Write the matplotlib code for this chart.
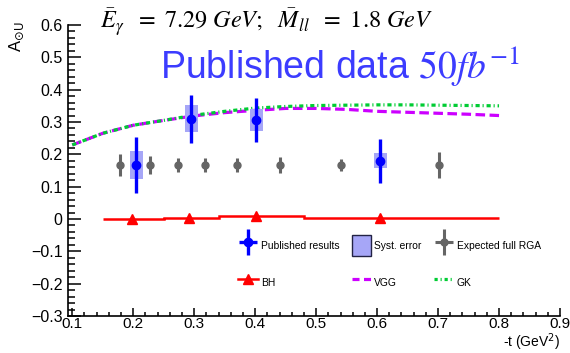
import matplotlib
matplotlib.use("Agg")
import matplotlib.pyplot as plt
from matplotlib.patches import Rectangle, Patch
from matplotlib.lines import Line2D
from matplotlib.legend_handler import HandlerErrorbar
from matplotlib.ticker import MultipleLocator, FixedLocator
import numpy as np

plt.rcParams['font.family'] = ['Liberation Sans', 'DejaVu Sans']

# ---- data ----
pub_t = [0.205, 0.295, 0.402, 0.605]
pub_a = [0.167, 0.310, 0.306, 0.180]
pub_stat = [0.086, 0.074, 0.068, 0.068]
pub_syst = [0.043, 0.042, 0.033, 0.023]
syst_halfwidth = 0.0105

rga_t = [0.178, 0.228, 0.273, 0.317, 0.371, 0.441, 0.541, 0.701]
rga_a = [0.167, 0.167, 0.167, 0.167, 0.167, 0.167, 0.167, 0.167]
rga_err = [0.034, 0.028, 0.022, 0.022, 0.022, 0.025, 0.020, 0.040]

bh_t = [0.198, 0.292, 0.402, 0.605]
bh_a = [0.000, 0.004, 0.008, 0.004]
bh_edges = [0.15, 0.25, 0.34, 0.48, 0.80]
bh_levels = [0.000, 0.004, 0.008, 0.004]

model_t = [0.10, 0.15, 0.20, 0.25, 0.30, 0.35, 0.40, 0.45, 0.50, 0.55, 0.60, 0.65, 0.70, 0.75, 0.80]
vgg_a = [0.229, 0.265, 0.290, 0.305, 0.319, 0.329, 0.336, 0.342, 0.342, 0.339, 0.333, 0.330, 0.327, 0.324, 0.320]
gk_a = [0.229, 0.265, 0.290, 0.305, 0.321, 0.333, 0.343, 0.348, 0.351, 0.352, 0.353, 0.353, 0.352, 0.351, 0.350]

x_ticks = [0.1, 0.2, 0.3, 0.4, 0.5, 0.6, 0.7, 0.8, 0.9]
y_ticks = [-0.3, -0.2, -0.1, 0, 0.1, 0.2, 0.3, 0.4, 0.5, 0.6]

BLUE = '#0000ff'
SYST = '#a6a6f7'
GRAY = '#656565'
RED = '#ff0000'
MAG = '#cc00ff'
GRN = '#00cc33'

W, H = 570, 353
fig = plt.figure(figsize=(W / 100, H / 100), dpi=100)
ax = fig.add_axes([68 / W, 1 - 316 / H, (560 - 68) / W, (316 - 25) / H])
ax.set_xlim(0.093, 0.9)
ax.set_ylim(-0.3, 0.6)

# models
ax.plot(model_t, vgg_a, color=MAG, lw=2.3, dashes=(3.0, 1.4), zorder=2)
ax.plot(model_t, gk_a, color=GRN, lw=2.3, dashes=(1.3, 0.9, 0.35, 0.9), zorder=2)

# BH step line + markers
ax.stairs(bh_levels, bh_edges, color=RED, lw=1.8, baseline=None, zorder=3)
ax.plot(bh_t, bh_a, linestyle='none', marker='^', color=RED, ms=7, zorder=4)

# expected RGA
ax.errorbar(rga_t, rga_a, yerr=rga_err, fmt='o', color=GRAY, ms=5, elinewidth=2.2,
            capsize=0, zorder=3)

# syst boxes
for t, a, s in zip(pub_t, pub_a, pub_syst):
    ax.add_patch(Rectangle((t - syst_halfwidth, a - s), 2 * syst_halfwidth, 2 * s,
                           facecolor=SYST, edgecolor='none', zorder=4))
# published
ax.errorbar(pub_t, pub_a, yerr=pub_stat, fmt='o', color=BLUE, ms=6, elinewidth=2.4,
            capsize=0, zorder=5)

# axes style (ROOT-like)
for s in ['top', 'right']:
    ax.spines[s].set_visible(False)
for s in ['left', 'bottom']:
    ax.spines[s].set_linewidth(1.2)
ax.xaxis.set_major_locator(FixedLocator(x_ticks))
ax.yaxis.set_major_locator(FixedLocator(y_ticks))
ax.xaxis.set_minor_locator(MultipleLocator(0.02))
ax.yaxis.set_minor_locator(MultipleLocator(0.02))
ax.set_xticklabels([f'{v:g}' for v in x_ticks])
ax.set_yticklabels([('\u2212' + f'{-v:g}') if v < 0 else f'{v:g}' for v in y_ticks])
ax.tick_params(axis='both', which='both', direction='in', labelsize=11.5, width=1.1)
ax.tick_params(axis='x', labelsize=11)
ax.tick_params(axis='y', which='major', length=9.5, pad=4)
ax.tick_params(axis='y', which='minor', length=5)
ax.tick_params(axis='x', which='major', length=6, pad=0.5)
ax.tick_params(axis='x', which='minor', length=3)

# axis titles
fig.text(560 / W, 1 - 342 / H, r'-t (GeV$^{2}$)', ha='right', va='center', fontsize=10,
         math_fontfamily='dejavusans')
fig.text(17 / W, 1 - 22 / H, r'A$_{\odot\mathrm{U}}$', rotation=90, ha='center', va='top',
         fontsize=12, math_fontfamily='dejavusans')

# annotations
fig.text(100 / W, 1 - 22 / H,
         r'$\bar{E}_{\gamma}\ \ =\ 7.29\ GeV;\ \ \bar{M}_{ll}\ \ =\ 1.8\ GeV$',
         ha='left', va='center', fontsize=17.5, math_fontfamily='stix')
fig.text(160 / W, 1 - 67 / H, r'Published data $50fb^{-1}$', ha='left', va='center',
         fontsize=27, color='#3c3cff', math_fontfamily='stix')

# legend
h_pub = ax.errorbar([], [], yerr=[], xerr=[], fmt='o', color=BLUE, ms=6, elinewidth=2.4)
h_syst = Patch(facecolor=SYST, edgecolor='#222244', lw=1.0)
h_rga = ax.errorbar([], [], yerr=[], xerr=[], fmt='o', color=GRAY, ms=5, elinewidth=2.2)
h_bh = Line2D([], [], color=RED, lw=1.8, marker='^', ms=7)
h_vgg = Line2D([], [], color=MAG, lw=2.3, dashes=(2.2, 1.4))
h_gk = Line2D([], [], color=GRN, lw=2.3, dashes=(1.0, 0.9, 0.35, 0.9))
handles = [h_pub, h_bh, h_syst, h_vgg, h_rga, h_gk]
labels = ['Published results', 'BH', 'Syst. error', 'VGG', 'Expected full RGA', 'GK']
leg = fig.legend(handles, labels, ncol=3, loc='upper left',
                 bbox_to_anchor=(231 / W, 1 - 228 / H), frameon=False, fontsize=7.4,
                 handlelength=1.9, handleheight=2.8, labelspacing=1.55, columnspacing=1.2,
                 handletextpad=0.3, borderpad=0.2,
                 handler_map={type(h_pub): HandlerErrorbar(xerr_size=0.9, yerr_size=1.25)})

fig.savefig('out.png', dpi=100)
